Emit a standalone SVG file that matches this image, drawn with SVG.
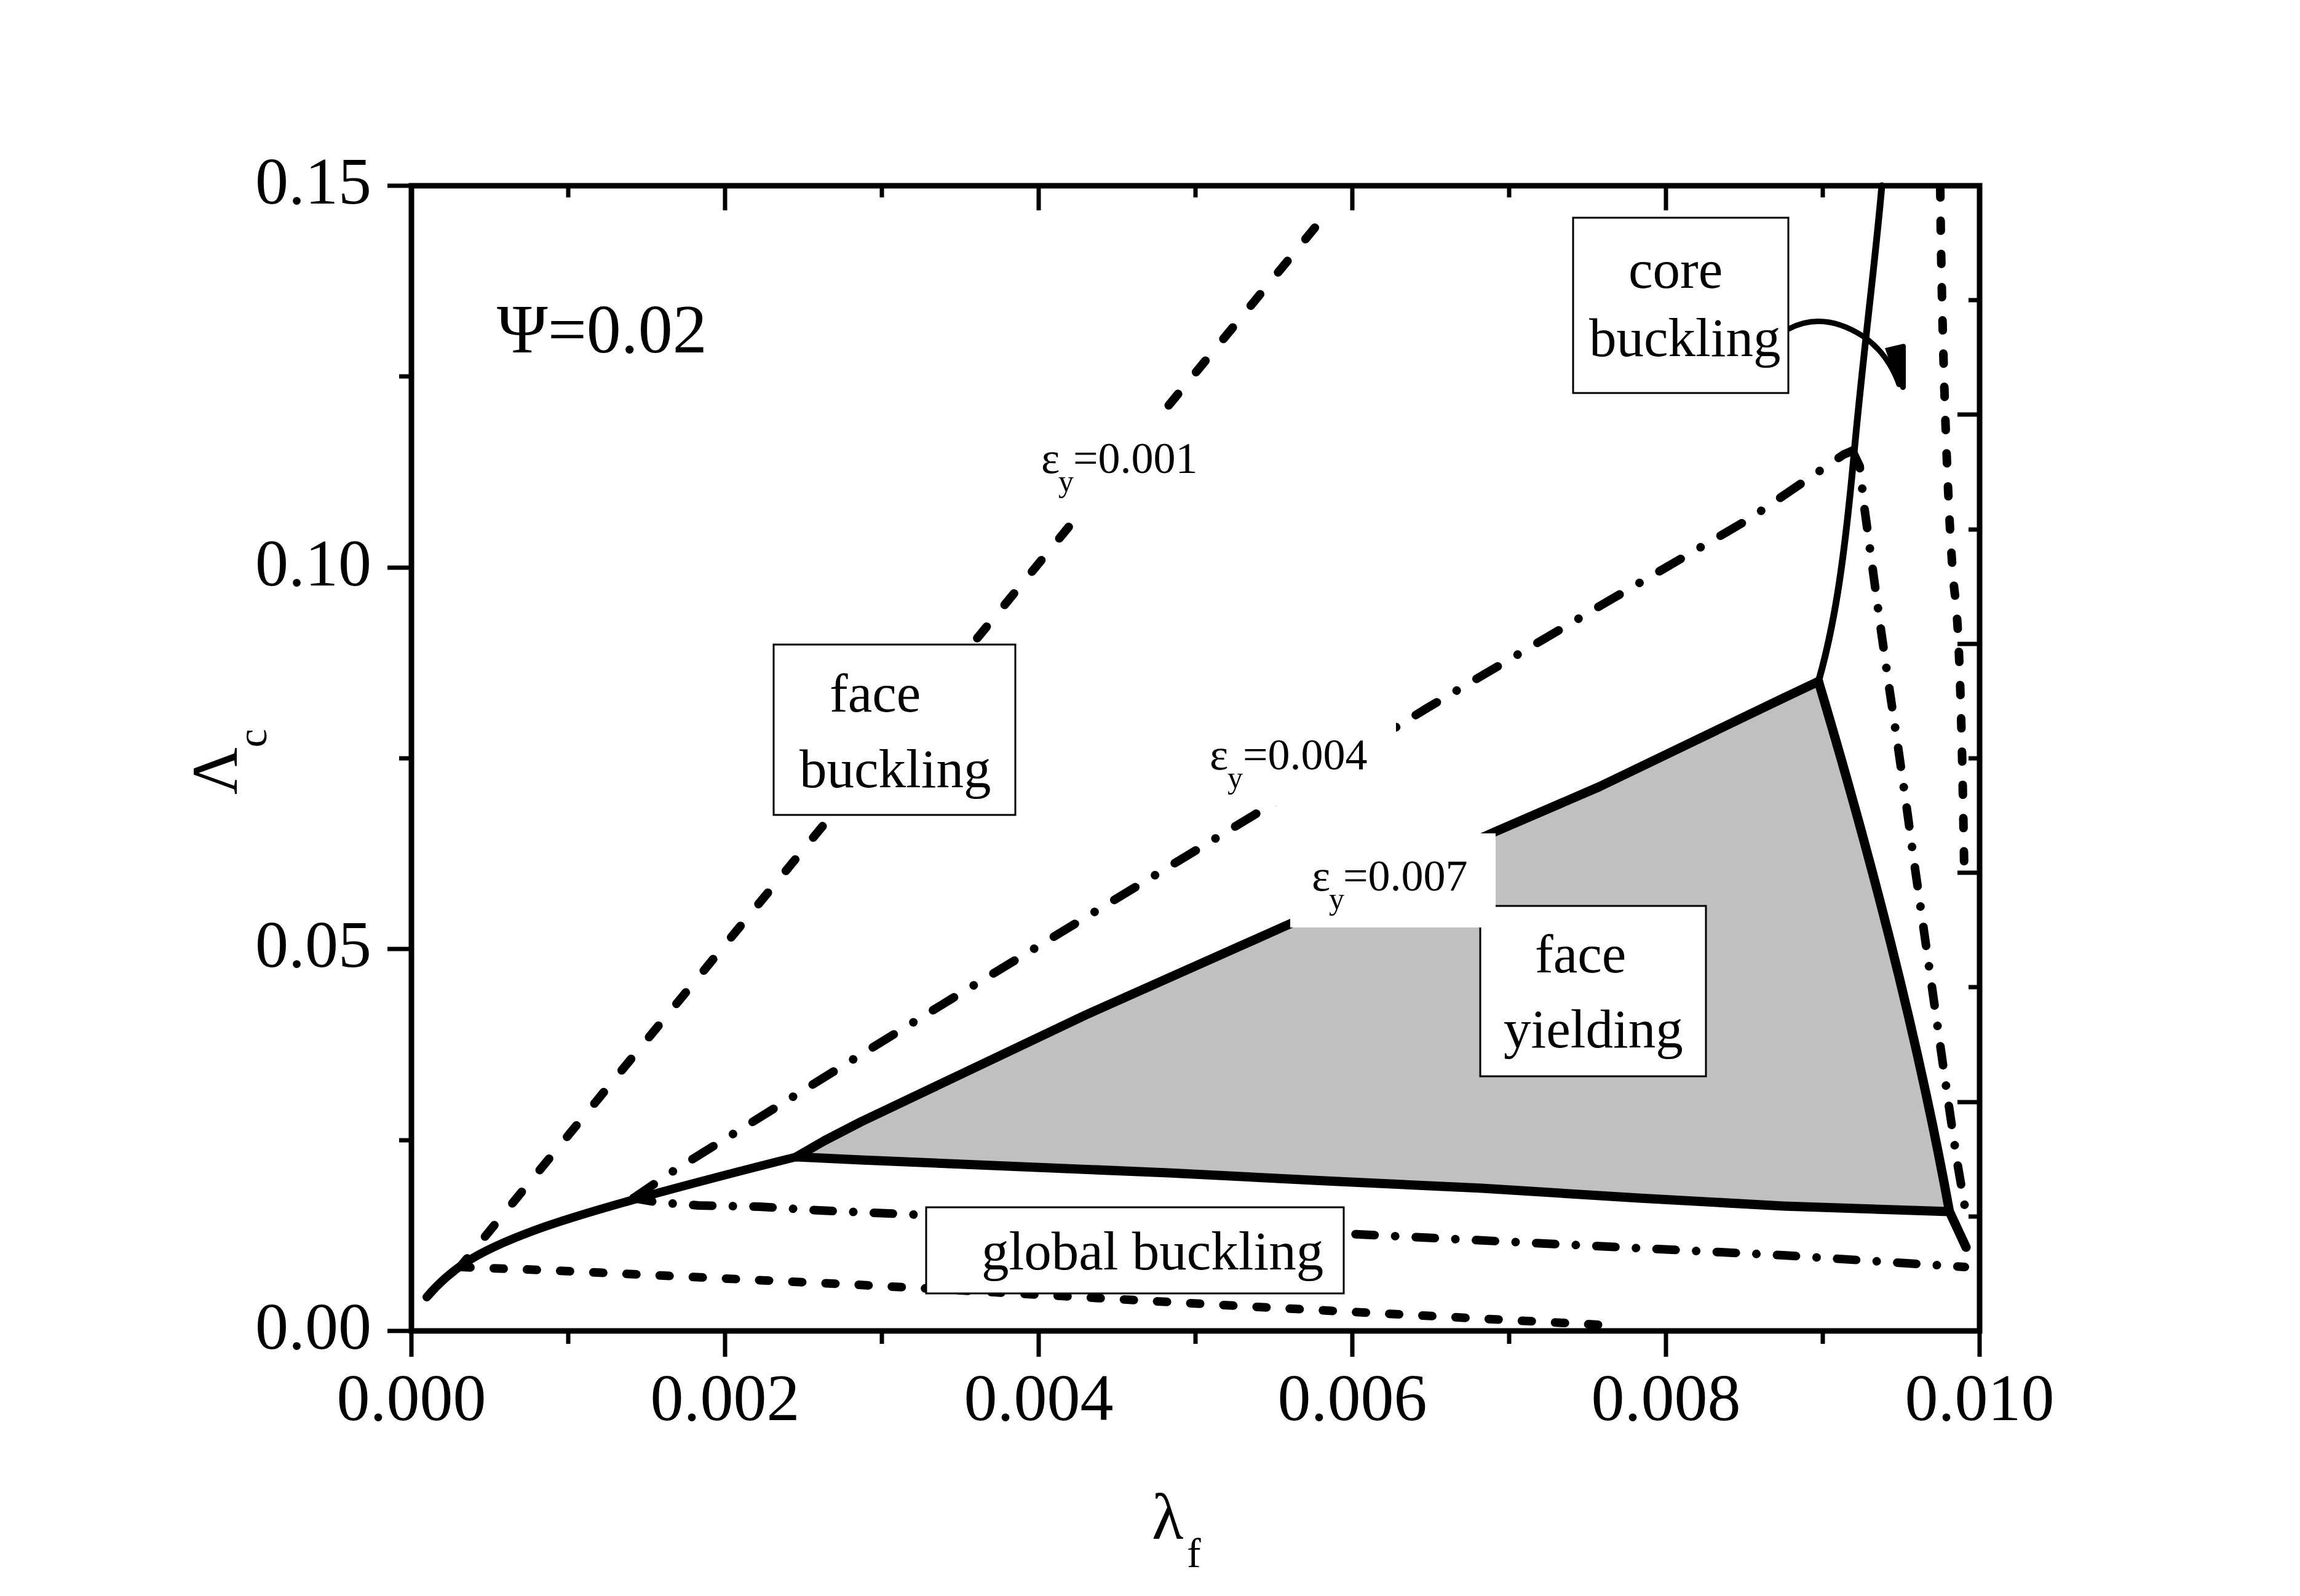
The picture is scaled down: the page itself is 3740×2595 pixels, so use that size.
<svg xmlns="http://www.w3.org/2000/svg" width="3740" height="2595" viewBox="0 0 3740 2595">
<style>
text { font-family: "Liberation Serif", "Times New Roman", serif; fill: #000; }
.tick { font-size: 108px; }
.lbl { font-size: 89px; }
.eps { font-size: 72px; }
.sub { font-size: 50px; }
.box { fill: #fff; stroke: #000; stroke-width: 3; }
.wbg { fill: #fff; stroke: none; }
.c { fill: none; stroke: #000; stroke-linejoin: round; stroke-linecap: round; }
.s7 { stroke-width: 15; }
.dash1 { stroke-width: 14; stroke-dasharray: 24 46; }
.dash2 { stroke-width: 14; stroke-dasharray: 16 38; }
.dd1 { stroke-width: 14; stroke-dasharray: 40 37.5 0.01 37.5; }
.dd2 { stroke-width: 14; stroke-dasharray: 31 33.5 0.01 33.5; }
</style>
<rect width="3740" height="2595" fill="#fff"/>

<g id="face-yielding-region">
<path d="M1295,1881 L1340,1855 L1400,1824 L1766,1650 L2098,1502 L2432,1352 L2601,1279 L2900,1135 L2957,1108 Q3101,1590 3170,1970 L2900,1961 L2665,1948 L2410,1932 L2155,1920 L1900,1907 L1400,1886 Z" fill="#c0c0c0"/>
</g>

<g id="connectors">
<!-- epsilon_y = 0.007 (solid) -->
<path class="c s7" d="M1295,1881 L1340,1855 L1400,1824 L1766,1650 L2098,1502 L2432,1352 L2601,1279 L2900,1135 L2957,1108"/>
<path class="c s7" d="M2957,1108 Q3101,1590 3170,1970 L3197,2028"/>
<path class="c s7" d="M1295,1881 L1400,1886 L1900,1907 L2155,1920 L2410,1932 L2665,1948 L2900,1961 L3170,1970"/>
<!-- face buckling / global buckling boundary -->
<path class="c" stroke-width="14" d="M694,2109 C740,2055 790,2030 865,2002 S1100,1930 1295,1881"/>
<!-- core buckling boundary -->
<path class="c" stroke-width="11" d="M2957,1108 C2985,1010 3000,900 3015,736 S3050,420 3060,302"/>
<!-- epsilon_y = 0.001 (dashed) -->
<path class="c dash1" stroke-dashoffset="6" d="M748,2060 L2158,346"/>
<path class="c dash2" stroke-dashoffset="-1" d="M748,2060 L796,2062 L883,2065 L1376,2088 L1471,2093 L2045,2125 L2619,2155 L2632,2157"/>
<path class="c dash2" d="M3155,305 C3158,600 3170,900 3179,968 S3192,1300 3194,1412"/>
<!-- epsilon_y = 0.004 (dash-dot) -->
<path class="c dd1" d="M1030,1948 L1095,1904 L1393,1719 L1549,1623 L1837,1448 L2033,1329 L2321,1151 L2614,978 L2844,844 L2998,739 L3012,733"/>
<path class="c dd2" d="M3012,733 L3024,758 L3032,828 L3045,924 L3058,1020 L3072,1118 L3086,1212 L3100,1310 L3113,1405 L3127,1503 L3168,1791 L3182,1886 L3195,1962"/>
<path class="c dd2" d="M1030,1948 L1069,1955 L1136,1960 L1235,1962 L1332,1968 L2190,2006 L2900,2041 L3195,2060"/>
<!-- arrow from core buckling label -->
<path class="c" stroke-width="9" stroke-linecap="butt" d="M2908,535 Q2965,505 3030,547 Q3070,575 3088,625"/>
<path d="M3065,566 L3095,559 Q3100,559 3099,566 L3099,630 Q3097,636 3091,633 L3080,608 Z" fill="#000"/>
</g>

<g id="node-face-yielding">
<rect class="box" x="2407" y="1473" width="367" height="277"/>
<text class="lbl" x="2496" y="1581">face</text>
<text class="lbl" x="2445" y="1703">yielding</text>
</g>

<g id="label-eps-0.001">
<rect class="wbg" x="1660" y="676" width="325" height="166"/>
<text class="eps" y="769"><tspan x="1693">ε</tspan><tspan class="sub" x="1721" y="799">y</tspan><tspan x="1745" y="769">=0.001</tspan></text>
</g>

<g id="label-eps-0.004">
<rect class="wbg" x="1935" y="1162" width="335" height="148"/>
<text class="eps" y="1251"><tspan x="1967">ε</tspan><tspan class="sub" x="1996" y="1281">y</tspan><tspan x="2021" y="1251">=0.004</tspan></text>
</g>

<g id="label-eps-0.007">
<rect class="wbg" x="2098" y="1355" width="334" height="153"/>
<text class="eps" y="1448"><tspan x="2133">ε</tspan><tspan class="sub" x="2161" y="1478">y</tspan><tspan x="2184" y="1448">=0.007</tspan></text>
</g>

<g id="node-face-buckling">
<rect class="box" x="1258" y="1048" width="393" height="277"/>
<text class="lbl" x="1349" y="1157">face</text>
<text class="lbl" x="1300" y="1280">buckling</text>
</g>

<g id="node-core-buckling">
<rect class="box" x="2558" y="354" width="350" height="285"/>
<text class="lbl" x="2648" y="468">core</text>
<text class="lbl" x="2584" y="579">buckling</text>
</g>

<g id="node-global-buckling">
<rect class="box" x="1506" y="1963" width="679" height="140"/>
<text class="lbl" x="1596" y="2064">global buckling</text>
</g>

<g id="psi-label">
<text x="808" y="573" font-size="112">Ψ=0.02</text>
</g>

<g id="axes">
<rect x="669" y="302" width="2550" height="1862" fill="none" stroke="#000" stroke-width="9"/>
<path fill="none" stroke="#000" stroke-width="7" d="M669,2164 v42 M924,2164 v21 M1179,2164 v42 M1434,2164 v21 M1689,2164 v42 M1944,2164 v21 M2199,2164 v42 M2454,2164 v21 M2709,2164 v42 M2964,2164 v21 M3219,2164 v42
M924,302 v19 M1179,302 v40 M1434,302 v19 M1689,302 v40 M1944,302 v19 M2199,302 v40 M2454,302 v19 M2709,302 v40 M2964,302 v19
M669,302 h-39 M669,612 h-20 M669,923 h-39 M669,1233 h-20 M669,1543 h-39 M669,1854 h-20 M669,2164 h-39
M3219,488 h-18 M3219,674 h-36 M3219,861 h-18 M3219,1047 h-36 M3219,1233 h-18 M3219,1419 h-36 M3219,1605 h-18 M3219,1792 h-36 M3219,1978 h-18"/>
<g class="tick" text-anchor="middle">
<text x="669" y="2309">0.000</text>
<text x="1179" y="2309">0.002</text>
<text x="1689" y="2309">0.004</text>
<text x="2199" y="2309">0.006</text>
<text x="2709" y="2309">0.008</text>
<text x="3219" y="2309">0.010</text>
</g>
<g class="tick" text-anchor="end">
<text x="604" y="331">0.15</text>
<text x="604" y="952">0.10</text>
<text x="604" y="1572">0.05</text>
<text x="604" y="2193">0.00</text>
</g>
<text x="1873" y="2502" font-size="106">λ<tspan font-size="68" x="1930" y="2548">f</tspan></text>
<text transform="translate(385,1292) rotate(-90)" font-size="106">Λ<tspan font-size="68" dy="48">c</tspan></text>
</g>
</svg>
